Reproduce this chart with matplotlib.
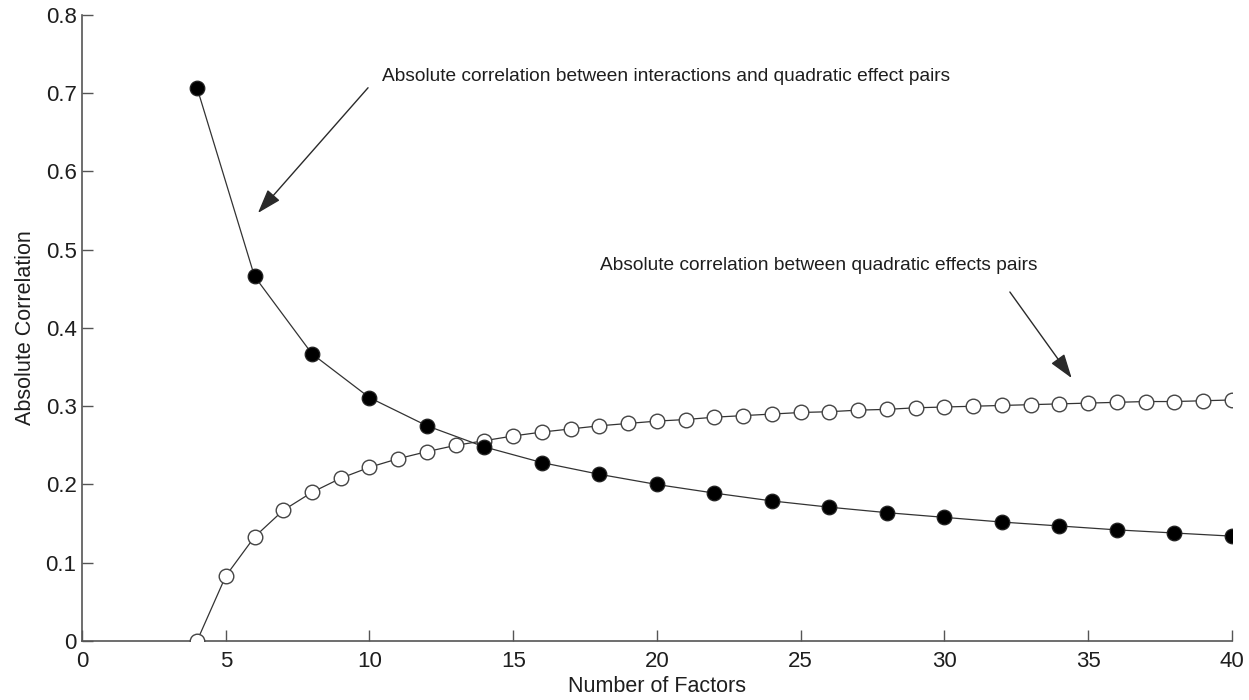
import matplotlib
matplotlib.use("Agg")
import matplotlib.pyplot as plt

plt.rcParams["font.family"] = ["Liberation Sans", "DejaVu Sans"]

# interaction / quadratic pairs (filled), even numbers of factors
X_INTER = [4, 6, 8, 10, 12, 14, 16, 18, 20, 22, 24, 26, 28, 30, 32, 34, 36, 38, 40]
Y_INTER = [0.707, 0.466, 0.367, 0.311, 0.275, 0.248, 0.228, 0.213, 0.200, 0.189,
           0.179, 0.171, 0.164, 0.158, 0.152, 0.147, 0.142, 0.138, 0.134]

# quadratic effect pairs (open), every number of factors
X_QUAD = list(range(4, 41))
Y_QUAD = [0.000, 0.083, 0.133, 0.167, 0.190, 0.208, 0.222, 0.233, 0.242, 0.250,
          0.256, 0.262, 0.267, 0.271, 0.275, 0.278, 0.281, 0.283, 0.286, 0.288,
          0.290, 0.292, 0.293, 0.295, 0.296, 0.298, 0.299, 0.300, 0.301, 0.302,
          0.303, 0.304, 0.305, 0.306, 0.306, 0.307, 0.308]

LINE_C = "#333333"
TXT_C = "#1e1e1e"

fig = plt.figure(figsize=(12.49, 7.0), dpi=100)
ax = fig.add_axes([0.0657, 0.0843, 0.9205, 0.8943])

ax.plot(X_QUAD, Y_QUAD, "-", color=LINE_C, lw=0.9, marker="o", ms=10.5,
        mfc="white", mec="#444444", mew=1.0, zorder=3)
ax.plot(X_INTER, Y_INTER, "-", color=LINE_C, lw=0.9, marker="o", ms=10.5,
        mfc="black", mec="#222222", mew=0.9, zorder=4)

ax.set_xlim(0, 40)
ax.set_ylim(0, 0.8)
ax.set_xticks(range(0, 41, 5))
ax.set_yticks([i / 10 for i in range(9)])
ax.set_yticklabels(["0", "0.1", "0.2", "0.3", "0.4", "0.5", "0.6", "0.7", "0.8"])

for s in ("top", "right"):
    ax.spines[s].set_visible(False)
for s in ("left", "bottom"):
    ax.spines[s].set_color("#555555")
    ax.spines[s].set_linewidth(1.2)
ax.tick_params(direction="in", length=8, width=1, colors="#555555",
               labelcolor=TXT_C, labelsize=16)
ax.tick_params(axis="x", pad=7)
ax.tick_params(axis="y", pad=4)

ax.set_xlabel("Number of Factors", fontsize=15.5, color=TXT_C, labelpad=3)
ax.set_ylabel("Absolute Correlation", fontsize=15.5, color=TXT_C, labelpad=7)

arrow = dict(arrowstyle="-|>,head_length=1.5,head_width=0.5", color="#2a2a2a",
             lw=1.0, shrinkA=0, shrinkB=0)
ax.annotate("", xy=(6.12, 0.547), xytext=(9.95, 0.707), arrowprops=arrow)
ax.text(10.43, 0.722, "Absolute correlation between interactions and quadratic effect pairs",
        fontsize=13.8, color=TXT_C, va="center", ha="left")
ax.annotate("", xy=(34.43, 0.336), xytext=(32.28, 0.446), arrowprops=arrow)
ax.text(18.02, 0.480, "Absolute correlation between quadratic effects pairs",
        fontsize=13.8, color=TXT_C, va="center", ha="left")

fig.savefig("out.png", dpi=100, facecolor="white")
